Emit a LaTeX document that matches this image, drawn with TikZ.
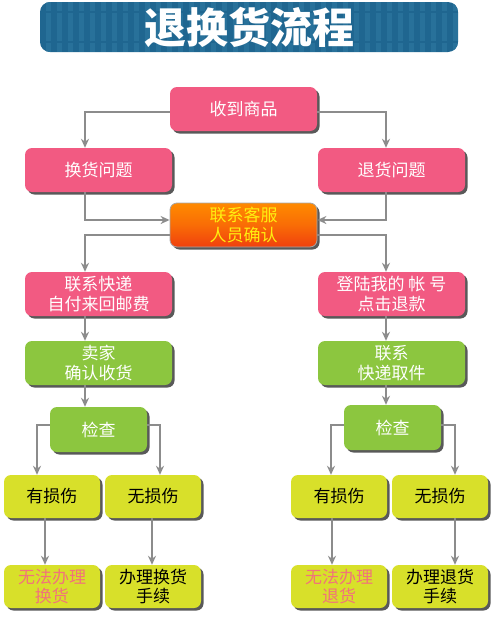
\documentclass[tikz,border=0pt]{standalone}
\usepackage{fontspec}
\setmainfont{Noto Sans CJK SC}
\usepackage{tikz}
\usetikzlibrary{arrows.meta, shadows}

\definecolor{titleblue}{HTML}{1F6690}
\definecolor{stripeblue}{HTML}{28719A}
\definecolor{boxpink}{HTML}{F25A82}
\definecolor{boxgreen}{HTML}{8CC63F}
\definecolor{boxyellow}{HTML}{D8E02A}
\definecolor{servtop}{HTML}{FF8A00}
\definecolor{servbot}{HTML}{F0400E}
\definecolor{servtext}{HTML}{FFEE10}
\definecolor{arrowgray}{HTML}{8C8C8C}
\definecolor{failred}{HTML}{F2737A}

\tikzset{
  flowbox/.style={rounded corners=7pt, minimum height=44pt, inner sep=1pt, align=center,
    font=\fontsize{17}{19.5}\selectfont,
    drop shadow={shadow xshift=2.5pt, shadow yshift=-2.5pt, fill=black!65, opacity=1}},
  pinkbox/.style={flowbox, fill=boxpink, text=white, minimum width=147pt},
  greenbox/.style={flowbox, fill=boxgreen, text=white, minimum width=147pt},
  checkbox/.style={flowbox, fill=boxgreen, text=white, minimum width=97pt, minimum height=45pt},
  yellowbox/.style={flowbox, fill=boxyellow, text=black, minimum width=96pt, minimum height=43pt},
  servbox/.style={flowbox, draw=black!35, line width=0.8pt, top color=servtop, bottom color=servbot,
    middle color=servtop!60!servbot, text=servtext, minimum width=147pt},
  arr/.style={draw=arrowgray, line width=1.6pt, -{Stealth[length=9pt, width=8pt]}}
}

\begin{document}
\begin{tikzpicture}[x=1pt, y=-1pt]
\useasboundingbox (0,0) rectangle (500,635);

% title banner
\node[fill=titleblue, rounded corners=10pt, minimum width=418pt, minimum height=50pt] (banner) at (249,27) {};
\begin{scope}
  \clip[rounded corners=10pt] (40,2) rectangle (458,52);
  \foreach \x in {46,57,...,458}
    \fill[stripeblue] (\x,2) rectangle ++(5,50);
  \fill[titleblue] (40,11) rectangle (458,13);
  \fill[titleblue] (40,41) rectangle (458,43);
\end{scope}
\node[text=white, font=\fontsize{42}{42}\selectfont\bfseries] (title) at (banner) {退换货流程};

% boxes
\node[pinkbox] (recv) at (243.5,109) {收到商品};
\node[pinkbox] (huan) at (98.5,170) {换货问题};
\node[pinkbox] (tui) at (391.5,170) {退货问题};
\node[servbox] (kefu) at (243.5,225) {联系客服\\人员确认};
\node[pinkbox] (kuaidi) at (98.5,294) {联系快递\\自付来回邮费};
\node[pinkbox] (denglu) at (391.5,294) {登陆我的 帐 号\\点击退款};
\node[greenbox] (maijia) at (98.5,363) {卖家\\确认收货};
\node[greenbox] (qujian) at (391.5,363) {联系\\快递取件};
\node[checkbox] (jcL) at (98.5,429.5) {检查};
\node[checkbox] (jcR) at (392.5,427.5) {检查};
\node[yellowbox] (ysL) at (52,496.5) {有损伤};
\node[yellowbox] (wsL) at (153,496.5) {无损伤};
\node[yellowbox] (ysR) at (339,496.5) {有损伤};
\node[yellowbox] (wsR) at (440,496.5) {无损伤};
\node[yellowbox, text=failred] (failL) at (52,586.5) {无法办理\\换货};
\node[yellowbox] (doneL) at (153,586.5) {办理换货\\手续};
\node[yellowbox, text=failred] (failR) at (339,586.5) {无法办理\\退货};
\node[yellowbox] (doneR) at (440,586.5) {办理退货\\手续};

% connectors
\draw[arr] ([yshift=-3pt]recv.west) -| ([xshift=-13.5pt]huan.north);
\draw[arr] ([yshift=-3pt]recv.east) -| ([xshift=-5.5pt]tui.north);
\draw[arr] ([xshift=-13.5pt]huan.south) |- ([yshift=5pt]kefu.west);
\draw[arr] ([xshift=-5.5pt]tui.south) |- ([yshift=5pt]kefu.east);
\draw[arr] ([yshift=-10pt]kefu.west) -| ([xshift=-13.5pt]kuaidi.north);
\draw[arr] ([yshift=-10pt]kefu.east) -| ([xshift=-5.5pt]denglu.north);
\draw[arr] ([xshift=-13.5pt]kuaidi.south) -- ([xshift=-13.5pt]maijia.north);
\draw[arr] ([xshift=-5.5pt]denglu.south) -- ([xshift=-5.5pt]qujian.north);
\draw[arr] ([xshift=-13.5pt]maijia.south) -- ([xshift=-13.5pt]maijia.south |- jcL.north);
\draw[arr] ([xshift=-5.5pt]qujian.south) -- ([xshift=-5.5pt]qujian.south |- jcR.north);
\draw[arr] ([yshift=4.5pt]jcL.west) -| ([xshift=-15pt]ysL.north);
\draw[arr] ([yshift=4.5pt]jcL.east) -| ([xshift=7pt]wsL.north);
\draw[arr] ([yshift=2.5pt]jcR.west) -| ([xshift=-8pt]ysR.north);
\draw[arr] ([yshift=2.5pt]jcR.east) -| ([xshift=15pt]wsR.north);
\draw[arr] ([xshift=-7pt]ysL.south) -- ([xshift=-7pt]failL.north);
\draw[arr] ([xshift=-1pt]wsL.south) -- ([xshift=-1pt]doneL.north);
\draw[arr] ([xshift=-7pt]ysR.south) -- ([xshift=-7pt]failR.north);
\draw[arr] ([xshift=15pt]wsR.south) -- ([xshift=15pt]doneR.north);
\end{tikzpicture}
\end{document}
